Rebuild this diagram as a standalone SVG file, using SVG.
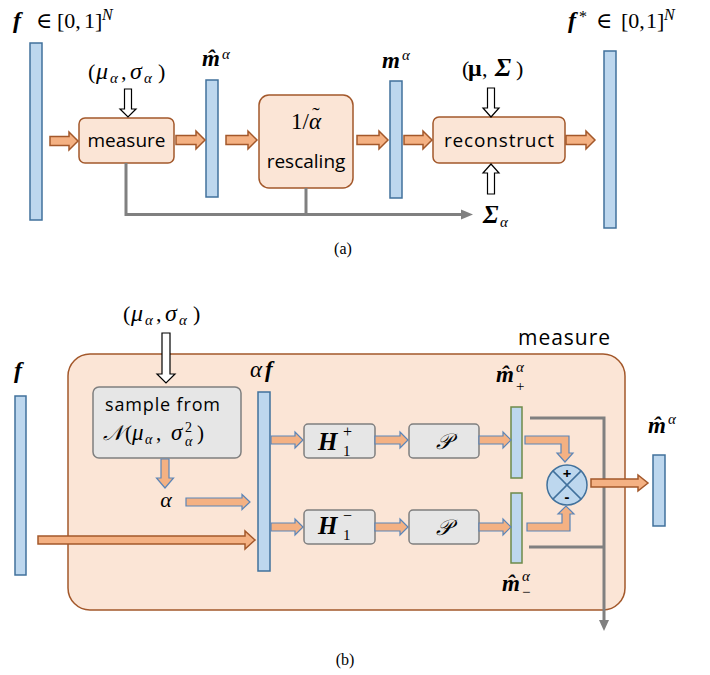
<svg xmlns="http://www.w3.org/2000/svg" width="710" height="675" viewBox="0 0 710 675">
<style>
.bar{fill:#bdd7ee;stroke:#41719c;stroke-width:1.5}
.gbar{fill:#bdd7ee;stroke:#6e8a4a;stroke-width:1.5}
.obox{fill:#fbe5d6;stroke:#a3582b;stroke-width:1.5}
.gbox{fill:#e6e6e6;stroke:#7f7f7f;stroke-width:1.5}
.oarr{fill:#f4b183;stroke:#a3582b;stroke-width:1.5}
.iarr{fill:#f4b183;stroke:#5b85b8;stroke-width:1.2}
.harr{fill:#fff;stroke:#000;stroke-width:1.2}
.gline{fill:none;stroke:#808080;stroke-width:3}
.ghead{fill:#808080}
.m{font-family:"Liberation Serif","DejaVu Serif",serif;fill:#000}
.s{font-family:"Open Sans","DejaVu Sans",sans-serif;fill:#000}
.bi{font-weight:bold;font-style:italic}
.it{font-style:italic}
</style>

<!-- ===== (a) ===== -->
<g id="a-f">
<rect class="bar" x="30" y="43" width="12" height="177"/>
<text class="m" y="28" font-size="22"><tspan class="bi" x="13" font-size="24">f</tspan><tspan x="36">∈</tspan><tspan x="57">[0,</tspan><tspan x="84">1]</tspan><tspan class="it" x="102" y="20" font-size="16">N</tspan></text>
</g>
<g id="a-measure">
<rect class="obox" x="79" y="118" width="95" height="45" rx="6"/>
<text class="s" x="126.5" y="147" font-size="19" text-anchor="middle">measure</text>
</g>
<g id="a-mualpha">
<text class="m" y="79" font-size="22"><tspan x="88">(</tspan><tspan class="it" x="96" font-size="24">μ</tspan><tspan class="it" x="110" y="83" font-size="15">α</tspan><tspan x="121" y="79">,</tspan><tspan class="it" x="130" font-size="24">σ</tspan><tspan class="it" x="144" y="83" font-size="15">α</tspan><tspan x="158" y="79">)</tspan></text>
</g>
<g id="a-mhat">
<rect class="bar" x="206" y="80" width="12" height="117"/>
<text class="m bi" x="202" y="66" font-size="23">m̂</text>
<text class="m it" x="222" y="59" font-size="15">α</text>
</g>
<g id="a-rescaling">
<rect class="obox" x="259" y="95" width="94" height="93" rx="10"/>
<text class="m" x="306" y="129" font-size="23" text-anchor="middle">1/<tspan class="it">α</tspan><tspan x="316" y="122" font-size="22">˜</tspan></text>
<text class="s" x="306" y="168" font-size="19" text-anchor="middle">rescaling</text>
</g>
<g id="a-m">
<rect class="bar" x="390" y="81" width="12" height="117"/>
<text class="m bi" x="382" y="68" font-size="23">m</text>
<text class="m it" x="402" y="60" font-size="15">α</text>
</g>
<g id="a-reconstruct">
<rect class="obox" x="433" y="117" width="132" height="46" rx="6"/>
<text class="s" x="499" y="147" font-size="19" text-anchor="middle" textLength="110" lengthAdjust="spacing">reconstruct</text>
</g>
<g id="a-musigma">
<text class="m" y="76" font-size="22"><tspan x="462">(</tspan><tspan x="468" font-weight="bold" font-size="24">μ</tspan><tspan x="482">,</tspan><tspan class="bi" x="495" font-size="26">Σ</tspan><tspan x="516">)</tspan></text>
</g>
<g id="a-sigmaalpha">
<text class="m bi" x="483" y="223" font-size="25">Σ</text>
<text class="m it" x="500" y="227" font-size="15">α</text>
</g>
<g id="a-fstar">
<rect class="bar" x="604" y="51" width="12" height="177"/>
<text class="m" y="28" font-size="22"><tspan class="bi" x="568" font-size="24">f</tspan><tspan x="579" y="22" font-size="16">*</tspan><tspan x="596" y="28">∈</tspan><tspan x="621">[0,</tspan><tspan x="646">1]</tspan><tspan class="it" x="664" y="20" font-size="16">N</tspan></text>
</g>
<g id="a-connectors">
<path class="oarr" d="M50 136.5 H69 V132 L78 141 L69 150 V145.5 H50 Z"/>
<path class="oarr" d="M176 135.5 H196 V131 L205 140 L196 149 V144.5 H176 Z"/>
<path class="oarr" d="M226 135.5 H248 V131 L257 140 L248 149 V144.5 H226 Z"/>
<path class="oarr" d="M357 135.5 H379 V131 L388 140 L379 149 V144.5 H357 Z"/>
<path class="oarr" d="M404 135.5 H423 V131 L432 140 L423 149 V144.5 H404 Z"/>
<path class="oarr" d="M566 135.5 H586 V131 L595 140 L586 149 V144.5 H566 Z"/>
<path class="harr" d="M124.5 89 H131.5 V109 H136 L128 117 L120 109 H124.5 Z"/>
<path class="harr" d="M487.5 88 H494.5 V108 H499 L491 117 L483 108 H487.5 Z"/>
<path class="harr" d="M487.5 194 H494.5 V173 H499 L491 164 L483 173 H487.5 Z"/>
<path class="gline" d="M126 163 V214.5 H463"/>
<path class="gline" d="M306 188 V214.5"/>
<polygon class="ghead" points="461,209.5 473,214.5 461,219.5"/>
</g>
<text class="m" x="343" y="254" font-size="16" text-anchor="middle">(a)</text>

<!-- ===== (b) ===== -->
<g id="b-measure">
<rect class="obox" x="68" y="354" width="557" height="256" rx="22"/>
<text class="s" x="518" y="345" font-size="21" textLength="92" lengthAdjust="spacing">measure</text>
</g>
<g id="b-f">
<rect class="bar" x="15" y="396" width="11" height="179"/>
<text class="m bi" x="14" y="378" font-size="24">f</text>
</g>
<g id="b-mualpha">
<text class="m" y="321" font-size="22"><tspan x="123">(</tspan><tspan class="it" x="131" font-size="24">μ</tspan><tspan class="it" x="145" y="325" font-size="15">α</tspan><tspan x="156" y="321">,</tspan><tspan class="it" x="165" font-size="24">σ</tspan><tspan class="it" x="179" y="325" font-size="15">α</tspan><tspan x="193" y="321">)</tspan></text>
</g>
<g id="b-sample">
<rect class="gbox" x="93" y="387" width="148" height="71" rx="6"/>
<text class="s" x="105" y="411" font-size="18" textLength="115" lengthAdjust="spacing">sample from</text>
<text class="m" y="440" font-size="21"><tspan class="it" x="103">𝒩</tspan><tspan x="125">(</tspan><tspan class="it" x="132" font-size="23">μ</tspan><tspan class="it" x="145" y="444" font-size="14">α</tspan><tspan x="156" y="440">,</tspan><tspan class="it" x="171" font-size="23">σ</tspan></text>
<text class="m" x="185" y="432" font-size="14">2</text>
<text class="m it" x="185" y="446" font-size="14">α</text>
<text class="m" x="197" y="440" font-size="21">)</text>
</g>
<g id="b-alpha">
<text class="m it" x="166" y="507" font-size="22" text-anchor="middle">α</text>
</g>
<g id="b-af">
<rect class="bar" x="258" y="392" width="12" height="179"/>
<text class="m" y="377" font-size="23"><tspan class="it" x="250">α</tspan><tspan class="bi" x="265">f</tspan></text>
</g>
<g id="b-hplus">
<rect class="gbox" x="304" y="424" width="71" height="34" rx="4"/>
<text class="m bi" x="318" y="450" font-size="25">H</text>
<text class="m" x="343" y="437" font-size="16">+</text>
<text class="m" x="343" y="456" font-size="15">1</text>
</g>
<g id="b-hminus">
<rect class="gbox" x="304" y="510" width="71" height="34" rx="4"/>
<text class="m bi" x="318" y="534" font-size="25">H</text>
<text class="m" x="343" y="521" font-size="16">−</text>
<text class="m" x="343" y="540" font-size="15">1</text>
</g>
<g id="b-pplus">
<rect class="gbox" x="409" y="424" width="70" height="34" rx="4"/>
<text class="m it" x="444" y="449" font-size="22" text-anchor="middle">𝒫</text>
</g>
<g id="b-pminus">
<rect class="gbox" x="409" y="510" width="70" height="34" rx="4"/>
<text class="m it" x="444" y="535" font-size="22" text-anchor="middle">𝒫</text>
</g>
<g id="b-mplus">
<rect class="gbar" x="511" y="407" width="11" height="71"/>
<text class="m bi" x="496" y="382" font-size="23">m̂</text>
<text class="m it" x="516" y="372" font-size="15">α</text>
<text class="m" x="516" y="391" font-size="15">+</text>
</g>
<g id="b-mminus">
<rect class="gbar" x="511" y="493" width="11" height="70"/>
<text class="m bi" x="502" y="591" font-size="23">m̂</text>
<text class="m it" x="522" y="581" font-size="15">α</text>
<text class="m" x="522" y="597" font-size="15">−</text>
</g>
<g id="b-sum">
<circle cx="567" cy="485" r="20" fill="#bdd7ee" stroke="#41719c" stroke-width="1.5"/>
<line x1="552.9" y1="470.9" x2="581.1" y2="499.1" stroke="#41719c" stroke-width="1.5"/>
<line x1="581.1" y1="470.9" x2="552.9" y2="499.1" stroke="#41719c" stroke-width="1.5"/>
<text class="s" x="567" y="479" font-size="15" font-weight="bold" text-anchor="middle">+</text>
<text class="s" x="567" y="502" font-size="15" font-weight="bold" text-anchor="middle">-</text>
</g>
<g id="b-mhat">
<rect class="bar" x="653" y="455" width="12" height="71"/>
<text class="m bi" x="648" y="433" font-size="23">m̂</text>
<text class="m it" x="668" y="424" font-size="15">α</text>
</g>
<g id="b-connectors">
<path class="harr" d="M162 333 H170 V374 H175 L166 383 L157 374 H162 Z"/>
<path class="iarr" d="M161 459 H169 V478 H173.5 L165 488 L156.5 478 H161 Z"/>
<path class="iarr" d="M186 498 H242 V494.5 L250 502 L242 509.5 V506 H186 Z"/>
<path class="oarr" d="M38 536 H245 V531 L255 540 L245 549 V544 H38 Z"/>
<path class="iarr" d="M271 436 H295 V432 L303 440 L295 448 V444 H271 Z"/>
<path class="iarr" d="M271 523 H295 V519 L303 527 L295 535 V531 H271 Z"/>
<path class="iarr" d="M375 436 H400 V432 L408 440 L400 448 V444 H375 Z"/>
<path class="iarr" d="M375 523 H400 V519 L408 527 L400 535 V531 H375 Z"/>
<path class="iarr" d="M479 436 H503 V432 L511 440 L503 448 V444 H479 Z"/>
<path class="iarr" d="M479 523 H503 V519 L511 527 L503 535 V531 H479 Z"/>
<path class="iarr" d="M525 436 H569 V453 H573 L565 462 L557 453 H561 V444 H525 Z"/>
<path class="iarr" d="M527 531 H570 V514 H574 L566 506 L558 514 H562 V523 H527 Z"/>
<path class="gline" d="M530 418 H604 V622"/>
<path class="gline" d="M529 547 H604"/>
<polygon class="ghead" points="599,620 609,620 604,631"/>
<path class="oarr" d="M591 479 H638 V475 L648 483 L638 491 V487 H591 Z"/>
</g>
<text class="m" x="345" y="665" font-size="16" text-anchor="middle">(b)</text>
</svg>
